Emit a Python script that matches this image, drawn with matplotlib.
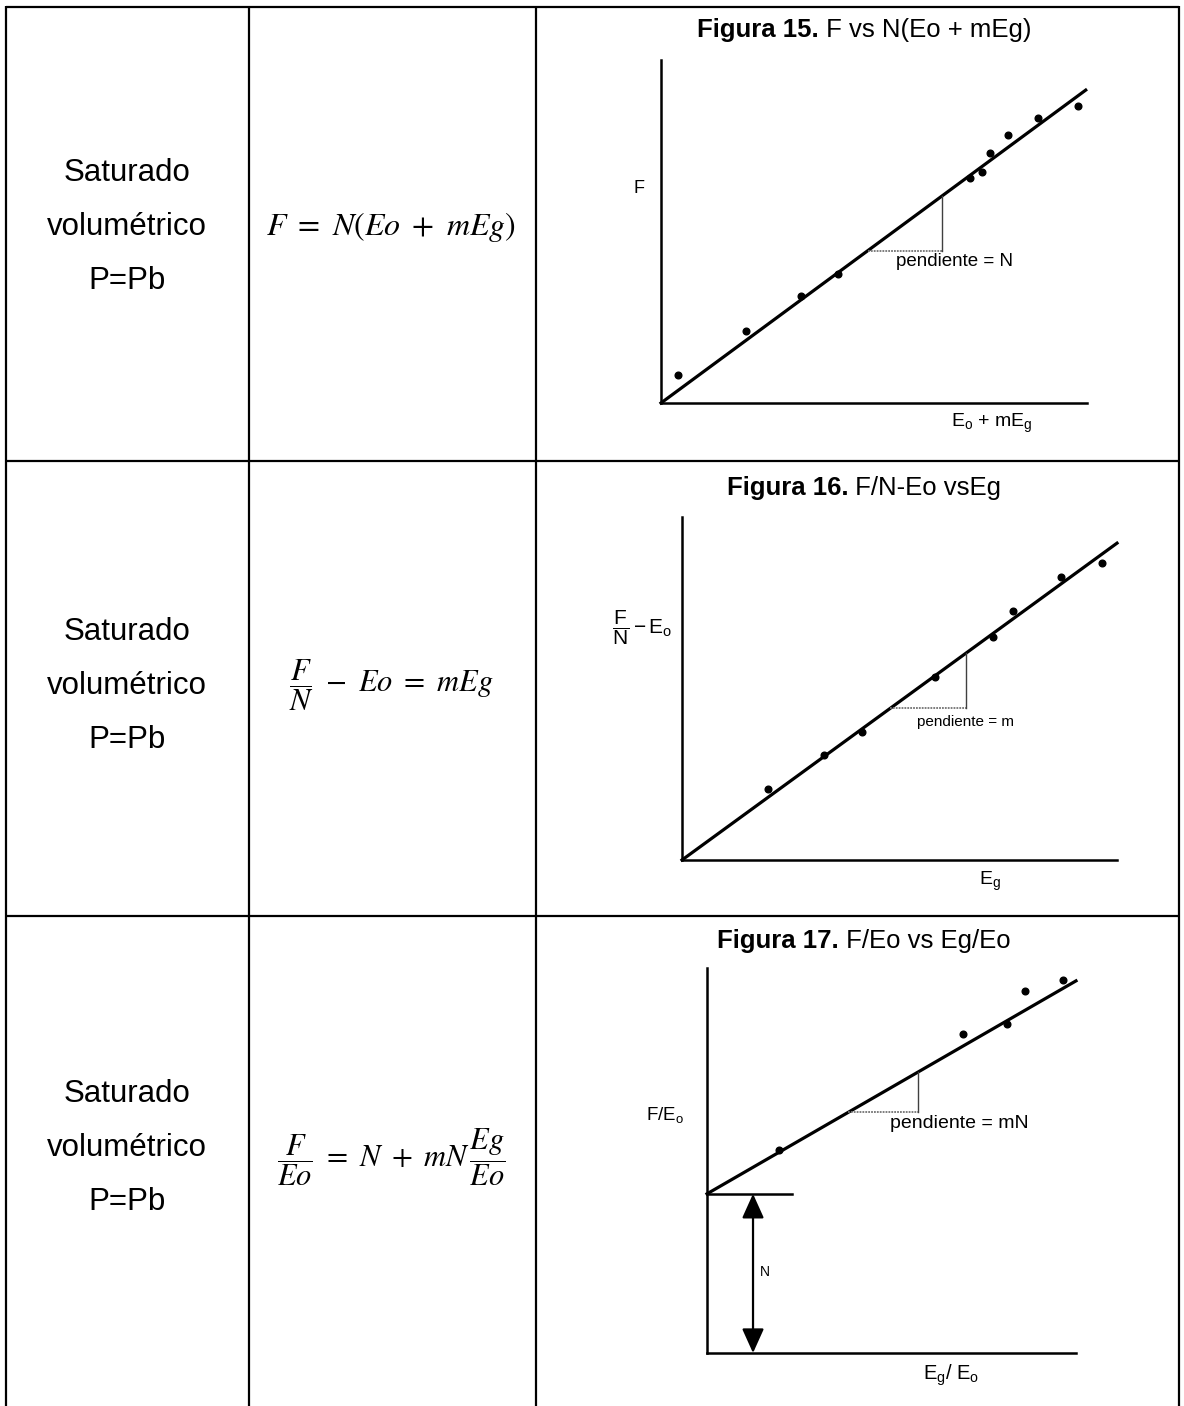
import matplotlib
matplotlib.use("Agg")
import matplotlib.pyplot as plt
import numpy as np

plt.rcParams['font.family'] = ['Liberation Sans', 'DejaVu Sans']
plt.rcParams['mathtext.fontset'] = 'custom'
plt.rcParams['mathtext.rm'] = 'Liberation Sans'
plt.rcParams['mathtext.it'] = 'Liberation Sans:italic'
plt.rcParams['mathtext.bf'] = 'Liberation Sans:bold'

W, H = 1184, 1406

# --- table contents ---
row_label = "Saturado\nvolumétrico\nP=Pb"
formulas = [r'$F\ =\ N(Eo\ +\ mEg)$',
            r'$\dfrac{F}{N}\ -\ Eo\ =\ mEg$',
            r'$\dfrac{F}{Eo}\ =\ N\ +\ mN\,\dfrac{Eg}{Eo}$']
title_bold = ['Figura 15.', 'Figura 16.', 'Figura 17.']
title_rest = [' F vs N(Eo + mEg)', ' F/N-Eo vsEg', ' F/Eo vs Eg/Eo']

# --- Figura 15: F vs Eo + mEg ---
f15_x = [0.40, 2.00, 3.29, 4.15, 7.25, 7.54, 7.72, 8.15, 8.85, 9.79]
f15_y = [0.65, 1.68, 2.50, 3.01, 5.25, 5.39, 5.83, 6.25, 6.65, 6.93]
f15_intercept = 0.0
f15_slope = 0.732
f15_line_x = [0.0, 9.97]
f15_tri_x = [4.85, 6.60]

# --- Figura 16: F/N - Eo vs Eg ---
f16_x = [1.98, 3.26, 4.14, 5.82, 7.15, 7.61, 8.71, 9.66]
f16_y = [1.66, 2.45, 2.98, 4.27, 5.20, 5.80, 6.60, 6.92]
f16_intercept = 0.0
f16_slope = 0.739
f16_line_x = [0.0, 10.0]
f16_tri_x = [4.79, 6.53]

# --- Figura 17: F/Eo vs Eg/Eo ---
f17_x = [1.67, 5.95, 6.98, 7.40, 8.28]
f17_y = [4.72, 7.42, 7.65, 8.42, 8.67]
f17_intercept = 3.70
f17_slope = 0.577
f17_line_x = [0.0, 8.58]
f17_tri_x = [3.29, 4.91]
f17_n_line_x = [0.0, 1.98]
f17_arrow_x = 1.07

fig = plt.figure(figsize=(W / 100, H / 100), dpi=100)
renderer = fig.canvas.get_renderer()

# background axes in pixel units for the table grid and text cells
bg = fig.add_axes([0, 0, 1, 1])
bg.set_xlim(0, W)
bg.set_ylim(H, 0)
bg.axis('off')

col_x = [6, 249, 536, 1179]
row_y = [7, 461, 916]
for x in col_x:
    bg.plot([x, x], [row_y[0] - 1, H], color='black', lw=1.6, solid_capstyle='butt')
for y in row_y:
    bg.plot([col_x[0], col_x[-1]], [y, y], color='black', lw=1.6, solid_capstyle='butt')

text_mid_y = [227, 686, 1148]
formula_mid_y = [227, 685, 1157]
for i in range(3):
    bg.text(127, text_mid_y[i], row_label, ha='center', va='center',
            fontsize=22.5, linespacing=2.05)
    bg.text(391, formula_mid_y[i], formulas[i], ha='center', va='center',
            fontsize=23 if i == 0 else 22, math_fontfamily='stix')

# titles: bold "Figura N." followed by regular text, centred together
title_base_y = [37, 495, 948]
for i in range(3):
    t1 = bg.text(0, title_base_y[i], title_bold[i], fontweight='bold',
                 fontsize=18.5, va='baseline', ha='left')
    t2 = bg.text(0, title_base_y[i], title_rest[i], fontsize=18.5,
                 va='baseline', ha='left')
    w1 = t1.get_window_extent(renderer).width
    w2 = t2.get_window_extent(renderer).width
    x0 = 864 - (w1 + w2) / 2
    t1.set_x(x0)
    t2.set_x(x0 + w1)


def px_axes(left, top, right, bottom):
    ax = fig.add_axes([left / W, 1 - bottom / H, (right - left) / W, (bottom - top) / H])
    ax.set_facecolor('none')
    for s in ['top', 'right']:
        ax.spines[s].set_visible(False)
    for s in ['left', 'bottom']:
        ax.spines[s].set_linewidth(1.8)
    ax.set_xticks([])
    ax.set_yticks([])
    return ax


def draw_fit(ax, xs, ys, intercept, slope, line_x, tri_x):
    lx = np.array(line_x)
    ax.plot(lx, intercept + slope * lx, color='black', lw=2.3, clip_on=False)
    ax.plot(xs, ys, 'o', color='black', ms=4.8, clip_on=False)
    y0 = intercept + slope * tri_x[0]
    y1 = intercept + slope * tri_x[1]
    ax.plot(tri_x, [y0, y0], color='0.45', lw=1.3, ls=(0, (1, 0.6)))
    ax.plot([tri_x[1], tri_x[1]], [y0, y1], color='0.25', lw=1.0)


# Figura 15
ax15 = px_axes(661, 60, 1087, 403)
ax15.set_xlim(0, 10)
ax15.set_ylim(0, 8)
draw_fit(ax15, f15_x, f15_y, f15_intercept, f15_slope, f15_line_x, f15_tri_x)
ax15.text(-0.52, 5.01, 'F', ha='center', va='center', fontsize=13)
ax15.text(6.88, 3.29, 'pendiente = N', ha='center', va='center', fontsize=13.5)
ax15.text(7.77, -0.47, r'E$_\mathrm{o}$ + mE$_\mathrm{g}$', ha='center', va='center', fontsize=14)

# Figura 16
ax16 = px_axes(682, 517, 1117, 860)
ax16.set_xlim(0, 10)
ax16.set_ylim(0, 8)
draw_fit(ax16, f16_x, f16_y, f16_intercept, f16_slope, f16_line_x, f16_tri_x)
ax16.text(-0.92, 5.41, r'$\dfrac{\mathrm{F}}{\mathrm{N}}-\mathrm{E}_\mathrm{o}$',
          ha='center', va='center', fontsize=15)
ax16.text(6.51, 3.22, 'pendiente = m', ha='center', va='center', fontsize=11)
ax16.text(7.08, -0.51, r'E$_\mathrm{g}$', ha='center', va='center', fontsize=14)

# Figura 17
ax17 = px_axes(707, 968, 1076, 1353)
ax17.set_xlim(0, 8.58)
ax17.set_ylim(0, 8.95)
draw_fit(ax17, f17_x, f17_y, f17_intercept, f17_slope, f17_line_x, f17_tri_x)
ax17.plot(f17_n_line_x, [f17_intercept, f17_intercept], color='black', lw=1.8)
ax17.annotate('', xy=(f17_arrow_x, 0), xytext=(f17_arrow_x, f17_intercept),
              arrowprops=dict(arrowstyle='<|-|>,head_length=1.0,head_width=0.45',
                              mutation_scale=15, color='black', lw=1.6,
                              shrinkA=0, shrinkB=0))
ax17.text(f17_arrow_x + 0.28, 1.88, 'N', ha='center', va='center', fontsize=10)
ax17.text(-0.98, 5.53, r'F/E$_\mathrm{o}$', ha='center', va='center', fontsize=13.5)
ax17.text(5.86, 5.33, 'pendiente = mN', ha='center', va='center', fontsize=14)
ax17.text(5.67, -0.51, r'E$_\mathrm{g}$/ E$_\mathrm{o}$', ha='center', va='center', fontsize=14.5)

fig.savefig('out.png', dpi=100)
